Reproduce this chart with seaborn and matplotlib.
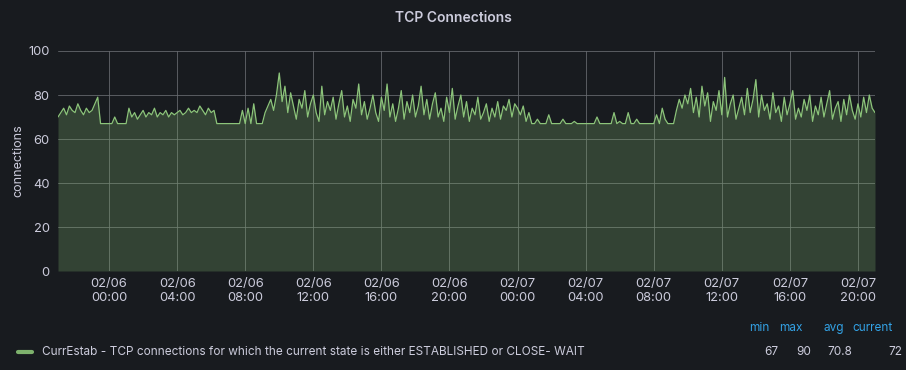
import pandas as pd
import matplotlib.pyplot as plt
import matplotlib.dates as mdates
import seaborn as sns

# 10-minute samples, 02/05 21:00 -> 02/07 21:00
start_time = "2024-02-05 21:00"
sample_minutes = 10

first_day = [
    70, 72, 74, 71, 75, 73,  72, 76, 73, 71, 74, 72,  73, 76, 79, 67, 67, 67,
    67, 67, 70, 67, 67, 67,  67, 74, 70, 72, 69, 71,  73, 70, 72, 71, 74, 70,
    72, 71, 73, 70, 72, 71,  72, 73, 71, 72, 74, 72,  73, 72, 75, 73, 71, 74,
    72, 73, 67, 67, 67, 67,  67, 67, 67, 67, 67, 73,  67, 74, 67, 76, 67, 67,
    67, 72, 75, 78, 73, 80,  90, 77, 84, 72, 81, 75,  69, 78, 74, 82, 70, 76,
    80, 72, 68, 84, 71, 77,  73, 79, 69, 76, 82, 70,  75, 68, 78, 74, 85, 71,
    77, 69, 74, 80, 72, 68,  79, 73, 85, 70, 76, 68,  74, 82, 69, 77, 72, 80,
    70, 75, 84, 71, 78, 69,  76, 81, 70, 74, 68, 79,  72, 83, 69, 75, 80, 70,
]
second_day = [
    77, 68, 74, 71, 79, 69,  72, 76, 68, 74, 70, 77,  69, 75, 73, 78, 70, 76,
    74, 71, 75, 68, 72, 67,  67, 69, 67, 67, 67, 71,  67, 67, 67, 67, 69, 67,
    67, 67, 68, 67, 67, 67,  67, 67, 67, 67, 70, 67,  67, 67, 67, 67, 72, 67,
    68, 67, 67, 72, 67, 67,  69, 67, 67, 67, 67, 67,  67, 71, 67, 74, 69, 67,
    67, 67, 73, 78, 74, 80,  76, 83, 72, 79, 70, 84,  75, 81, 68, 77, 73, 82,
    71, 88, 70, 76, 80, 69,  74, 79, 71, 83, 72, 78,  87, 70, 80, 73, 76, 69,
    81, 72, 75, 68, 79, 71,  76, 82, 69, 74, 70, 78,  73, 80, 68, 75, 71, 79,
    70, 76, 82, 69, 74, 77,  68, 78, 71, 80, 73, 69,  76, 70, 79, 72, 80, 74,
    72,
]

series_name = "CurrEstab - TCP connections for which the current state is either ESTABLISHED or CLOSE- WAIT"
stat_labels = ["min", "max", "avg", "current"]
stat_values = ["67", "90", "70.8", "72"]

values = first_day + second_day
df = pd.DataFrame({
    "time": pd.date_range(start_time, periods=len(values), freq=f"{sample_minutes}min"),
    "connections": values,
})

bg = "#181b1f"
text_col = "#ccccdc"
green = "#7eb26d"

sns.set_style("dark")
plt.rcParams["font.family"] = ["Inter", "DejaVu Sans"]

fig = plt.figure(figsize=(9.06, 3.7), dpi=100, facecolor=bg)
ax = fig.add_axes([58 / 906, 1 - 271 / 370, 817 / 906, 220 / 370])
ax.set_facecolor(bg)

ax.fill_between(df["time"], df["connections"], 0, color=green, alpha=0.27, linewidth=0)
sns.lineplot(data=df, x="time", y="connections", ax=ax, color="#8cc47a", linewidth=0.9)

ax.set_xlim(df["time"].iloc[0], df["time"].iloc[-1])
ax.set_ylim(0, 100)
ax.set_yticks(range(0, 101, 20))
ax.xaxis.set_major_locator(mdates.HourLocator(byhour=[0, 4, 8, 12, 16, 20]))
ax.xaxis.set_major_formatter(mdates.DateFormatter("%m/%d\n%H:%M"))

ax.grid(True, color="#6a6d72", linewidth=0.7, alpha=0.8)
for s in ax.spines.values():
    s.set_visible(False)
ax.tick_params(axis="both", colors=text_col, labelsize=9.3, length=0)
ax.tick_params(axis="y", pad=6)
ax.tick_params(axis="x", pad=5)
ax.set_xlabel("")
ax.set_ylabel("connections", color=text_col, fontsize=9, labelpad=10)
ax.yaxis.set_label_coords(-34 / 817, 0.5)

fig.text(0.5, 1 - 18 / 370, "TCP Connections", ha="center", va="center",
         color=text_col, fontsize=10, fontweight="semibold")

# legend table
fig.add_artist(plt.Line2D([18 / 906, 32 / 906], [1 - 352 / 370] * 2,
                          color=green, linewidth=3, transform=fig.transFigure))
fig.text(42 / 906, 1 - 352 / 370, series_name, ha="left", va="center",
         color=text_col, fontsize=8.5)
header_right = [770, 803, 844, 893]
value_right = [778, 811, 852, 902]
for lab, val, hx, vx in zip(stat_labels, stat_values, header_right, value_right):
    fig.text(hx / 906, 1 - 328 / 370, lab, ha="right", va="center",
             color="#33a2e5", fontsize=8.5)
    fig.text(vx / 906, 1 - 352 / 370, val, ha="right", va="center",
             color=text_col, fontsize=8.5)

fig.savefig("out.png", dpi=100, facecolor=bg)
